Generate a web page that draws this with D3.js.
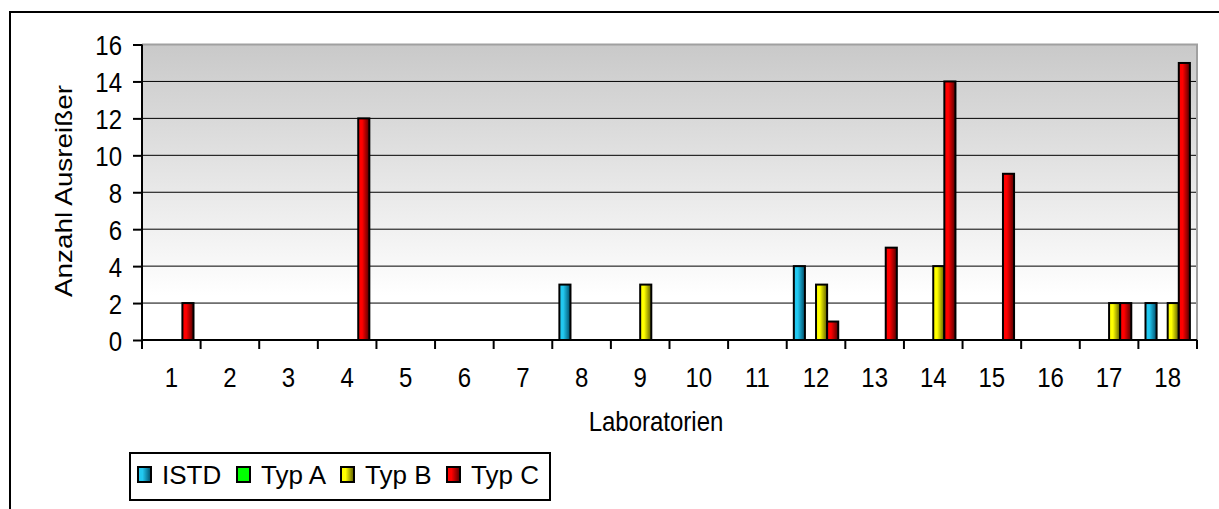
<!DOCTYPE html>
<html>
<head>
<meta charset="utf-8">
<script src="https://cdn.jsdelivr.net/npm/d3@7"></script>
<style>
	body { margin: 0; background: #fff; }
	text { font-family: "Liberation Sans", Arial, sans-serif; fill: #000; }
</style>
</head>
<body>
<svg id="chart" width="1219" height="509"></svg>
<script>
var LABS = ["1","2","3","4","5","6","7","8","9","10","11","12","13","14","15","16","17","18"];
var SERIES = ["ISTD", "Typ A", "Typ B", "Typ C"];
var ISTD  = [0,0,0,0,0,0,0,3,0,0,0,4,0,0,0,0,0,2];
var TYP_A = [0,0,0,0,0,0,0,0,0,0,0,0,0,0,0,0,0,0];
var TYP_B = [0,0,0,0,0,0,0,0,3,0,0,3,0,4,0,0,2,2];
var TYP_C = [2,0,0,12,0,0,0,0,0,0,0,1,5,14,9,0,2,15];
var Y_TICKS = [0,2,4,6,8,10,12,14,16];

var COLORS = {
	"ISTD":  ["#22c8f0", "#004a66"],
	"Typ A": ["#00ff00", "#00ff00"],
	"Typ B": ["#ffff00", "#5a5a00"],
	"Typ C": ["#ff0000", "#500000"]
};

// text in the original is slightly stretched vertically
var STRETCH = "scale(1,1.16)";

var svg = d3.select("#chart");
var plot = {left: 142, top: 44.5, right: 1197, bottom: 340};

/*
Gradients for the plot area and bars
*/
var defs = svg.append("defs");
var bg = defs.append("linearGradient").attr("id", "bg").attr("x1", 0).attr("y1", 0).attr("x2", 0).attr("y2", 1);
bg.append("stop").attr("offset", "0%").attr("stop-color", "#c9c9c9");
bg.append("stop").attr("offset", "85%").attr("stop-color", "#ffffff");
bg.append("stop").attr("offset", "100%").attr("stop-color", "#ffffff");

SERIES.forEach(function(s, i) {
	var g = defs.append("linearGradient").attr("id", "bar" + i).attr("x1", 0).attr("y1", 0).attr("x2", 1).attr("y2", 0);
	g.append("stop").attr("offset", "0%").attr("stop-color", COLORS[s][0]);
	g.append("stop").attr("offset", "35%").attr("stop-color", COLORS[s][0]);
	g.append("stop").attr("offset", "100%").attr("stop-color", COLORS[s][1]);
});

/*
Outer frame
*/
svg.append("rect").attr("x", 10).attr("y", 12).attr("width", 1240).attr("height", 520)
	.attr("fill", "none").attr("stroke", "#000").attr("stroke-width", 2);

/*
Scales
*/
var x0 = d3.scaleBand().domain(LABS).range([plot.left, plot.right]).padding(0);
var x1 = d3.scaleBand().domain(SERIES).range([0, x0.bandwidth()]).paddingInner(0).paddingOuter(0.64);
var y = d3.scaleLinear().domain([0, 16]).range([plot.bottom, plot.top]);

/*
Plot area background and borders
*/
svg.append("rect").attr("x", plot.left).attr("y", plot.top)
	.attr("width", plot.right - plot.left).attr("height", plot.bottom - plot.top)
	.attr("fill", "url(#bg)");
svg.append("path").attr("d", "M" + plot.left + "," + plot.top + "H" + plot.right + "V" + plot.bottom)
	.attr("fill", "none").attr("stroke", "#a0a0a0").attr("stroke-width", 2);

/*
Gridlines
*/
svg.append("g").selectAll("line").data(Y_TICKS.filter(function(d) { return d > 0 && d < 16; }))
	.enter().append("line")
	.attr("x1", plot.left).attr("x2", plot.right - 1)
	.attr("y1", function(d) { return y(d); }).attr("y2", function(d) { return y(d); })
	.attr("stroke", "#000").attr("stroke-width", 1);

/*
Bars
*/
var rows = LABS.map(function(lab, i) {
	return {lab: lab, values: [ISTD[i], TYP_A[i], TYP_B[i], TYP_C[i]]};
});
var groups = svg.append("g").selectAll("g").data(rows).enter().append("g")
	.attr("transform", function(d) { return "translate(" + x0(d.lab) + ",0)"; });
groups.selectAll("rect")
	.data(function(d) { return d.values.map(function(v, i) { return {s: SERIES[i], i: i, v: v}; }).filter(function(b) { return b.v > 0; }); })
	.enter().append("rect")
	.attr("x", function(d) { return x1(d.s); })
	.attr("y", function(d) { return y(d.v); })
	.attr("width", x1.bandwidth())
	.attr("height", function(d) { return y(0) - y(d.v); })
	.attr("fill", function(d) { return "url(#bar" + d.i + ")"; })
	.attr("stroke", "#000").attr("stroke-width", 2);

/*
Axes
*/
var yAxis = d3.axisLeft(y).tickValues(Y_TICKS).tickSize(9).tickPadding(11);
var yg = svg.append("g").attr("transform", "translate(" + plot.left + ",0)").call(yAxis);
var xAxis = d3.axisBottom(x0).tickSize(0).tickPadding(0);
var xg = svg.append("g").attr("transform", "translate(0," + plot.bottom + ")").call(xAxis);

[yg, xg].forEach(function(g) {
	g.select(".domain").attr("stroke", "#000").attr("stroke-width", 2);
	g.selectAll(".tick line").attr("stroke", "#000").attr("stroke-width", 2);
	g.selectAll(".tick text").attr("font-size", 24).attr("font-family", "Liberation Sans, Arial, sans-serif").attr("fill", "#000");
});
yg.select(".domain").attr("d", "M0," + plot.top + "V" + plot.bottom);
yg.selectAll(".tick text").attr("x", 0).attr("dy", "0.36em").attr("transform", "translate(-20,0) " + STRETCH);
xg.select(".domain").attr("d", "M" + plot.left + ",0H" + plot.right);
xg.selectAll(".tick text").attr("y", 0).attr("dy", 0).attr("transform", "translate(0,47) " + STRETCH);

/*
Category boundary ticks on the x axis
*/
svg.append("g").selectAll("line").data(LABS.concat(["end"])).enter().append("line")
	.attr("x1", function(d, i) { return i < LABS.length ? x0(d) : plot.right; })
	.attr("x2", function(d, i) { return i < LABS.length ? x0(d) : plot.right; })
	.attr("y1", plot.bottom).attr("y2", plot.bottom + 9)
	.attr("stroke", "#000").attr("stroke-width", 2);

/*
Axis titles
*/
svg.append("text").attr("transform", "translate(72,191) rotate(-90) scale(1.16,1)")
	.attr("text-anchor", "middle").attr("font-size", 24).text("Anzahl Ausreißer");
svg.append("text").attr("transform", "translate(656,431) " + STRETCH)
	.attr("text-anchor", "middle").attr("font-size", 24).text("Laboratorien");

/*
Legend
*/
svg.append("rect").attr("x", 130).attr("y", 453).attr("width", 420).attr("height", 47)
	.attr("fill", "#fff").attr("stroke", "#000").attr("stroke-width", 2);
var legendX = [138, 237, 341, 447];
var items = svg.append("g").selectAll("g").data(SERIES).enter().append("g")
	.attr("transform", function(d, i) { return "translate(" + legendX[i] + ",0)"; });
items.append("rect").attr("x", 0).attr("y", 467).attr("width", 13).attr("height", 15)
	.attr("fill", function(d, i) { return "url(#bar" + i + ")"; })
	.attr("stroke", "#000").attr("stroke-width", 2);
items.append("text").attr("x", 24).attr("y", 484).attr("font-size", 26).text(function(d) { return d; });
</script>
</body>
</html>
